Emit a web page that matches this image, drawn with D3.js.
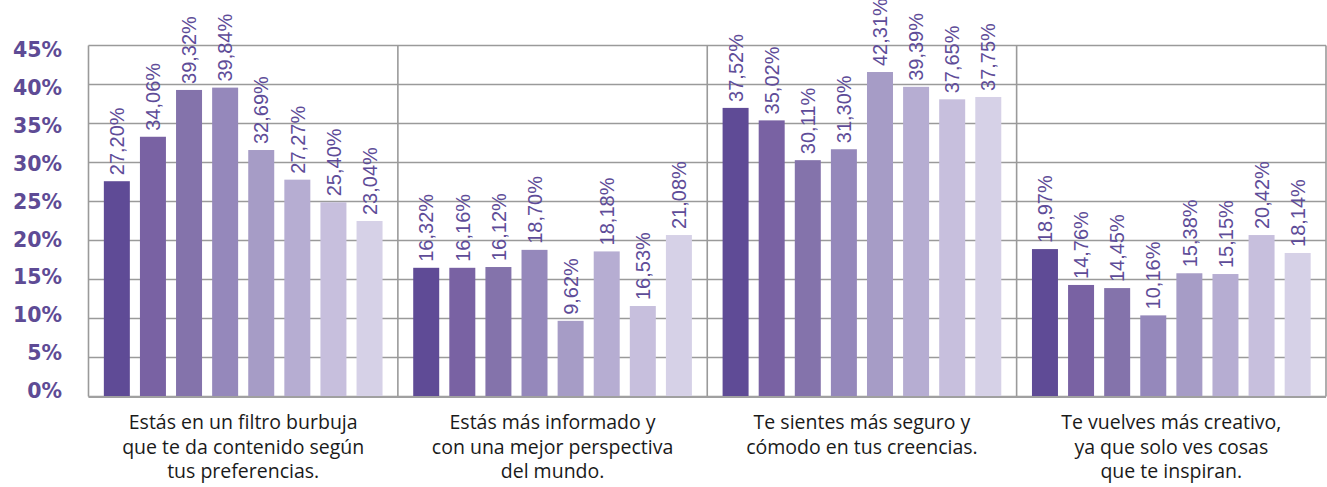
<!DOCTYPE html>
<html><head><meta charset="utf-8">
<script src="https://cdn.jsdelivr.net/npm/d3@7"></script>
<style>html,body{margin:0;padding:0;background:#fff;overflow:hidden}</style>
</head><body>
<svg id="chart" width="1327" height="487"></svg>
<script>
// ---- data ----
const categories = [
  ["Estás en un filtro burbuja", "que te da contenido según", "tus preferencias."],
  ["Estás más informado y", "con una mejor perspectiva", "del mundo."],
  ["Te sientes más seguro y", "cómodo en tus creencias."],
  ["Te vuelves más creativo,", "ya que solo ves cosas", "que te inspiran."]
];
const series = ["s1","s2","s3","s4","s5","s6","s7","s8"];
// printed labels
const labelValues = [
  [27.20, 34.06, 39.32, 39.84, 32.69, 27.27, 25.40, 23.04],
  [16.32, 16.16, 16.12, 18.70, 9.62, 18.18, 16.53, 21.08],
  [37.52, 35.02, 30.11, 31.30, 42.31, 39.39, 37.65, 37.75],
  [18.97, 14.76, 14.45, 10.16, 15.38, 15.15, 20.42, 18.14]
];
// bar heights as drawn in the picture
const barValues = [
  [27.6, 33.3, 39.3, 39.6, 31.6, 27.8, 24.9, 22.5],
  [16.5, 16.5, 16.6, 18.8, 9.7, 18.6, 11.6, 20.7],
  [37.0, 35.4, 30.3, 31.7, 41.6, 39.7, 38.1, 38.4],
  [18.9, 14.3, 13.9, 10.4, 15.8, 15.7, 20.7, 18.4]
];
const yTicks = [0, 5, 10, 15, 20, 25, 30, 35, 40, 45];
const colors = ["#5f4b96", "#7962a3", "#8473ab", "#9588bb", "#a69cc6", "#b6add2", "#c7bfdd", "#d6d1e7"];

// ---- layout ----
const svg = d3.select("#chart");
const mLeft = 88.5, mRight = 1326, mTop = 45.5, mBottom = 396.5;

const x0 = d3.scaleBand().domain(d3.range(categories.length)).range([mLeft, mRight]).padding(0);
const x1 = d3.scaleBand().domain(series).range([0, x0.bandwidth()]).paddingInner(0.28).paddingOuter(0.425);
const y = d3.scaleLinear().domain([0, 45]).range([mBottom, mTop]);
const yLab = d3.scaleLinear().domain([0, 45]).range([391, 50]);
const color = d3.scaleOrdinal().domain(series).range(colors);

// gridlines
svg.append("g").selectAll("line").data(yTicks).join("line")
  .attr("x1", mLeft).attr("x2", mRight)
  .attr("y1", d => y(d)).attr("y2", d => y(d))
  .attr("stroke", "#9a9a9a").attr("stroke-width", 1.6);
// vertical separators
const bounds = d3.range(categories.length).map(i => x0(i)).concat([mRight]);
svg.append("g").selectAll("line").data(bounds).join("line")
  .attr("x1", d => d).attr("x2", d => d)
  .attr("y1", mTop).attr("y2", mBottom)
  .attr("stroke", "#9a9a9a").attr("stroke-width", 1.6);

const rows = (i) => series.map((s, j) => ({s, v: barValues[i][j], lab: labelValues[i][j]}));

// bars
const groups = svg.append("g").selectAll("g").data(categories).join("g")
  .attr("transform", (d, i) => `translate(${x0(i)},0)`);
groups.selectAll("rect").data((d, i) => rows(i))
  .join("rect")
  .attr("x", d => x1(d.s)).attr("width", x1.bandwidth())
  .attr("y", d => y(d.v)).attr("height", d => y(0) - y(d.v))
  .attr("fill", d => color(d.s));

// bottom axis line
svg.append("line").attr("x1", mLeft).attr("x2", mRight).attr("y1", mBottom + 0.5).attr("y2", mBottom + 0.5)
  .attr("stroke", "#a0a0a0").attr("stroke-width", 2);

// value labels
const fmt = v => d3.format(".2f")(v).replace(".", ",") + "%";
groups.selectAll("text.val").data((d, i) => rows(i))
  .join("text").attr("class", "val")
  .attr("transform", d => `translate(${x1(d.s) + x1.bandwidth() / 2},${y(d.v) - 6}) rotate(-90)`)
  .attr("dy", "0.36em")
  .attr("font-family", "'Liberation Sans', Arial, sans-serif")
  .attr("font-size", 20)
  .attr("fill", "#5e4c98")
  .text(d => fmt(d.lab));

// y axis labels
const yAxis = d3.axisLeft(yLab).tickValues(yTicks).tickSize(0).tickFormat(d => d + "%");
const ya = svg.append("g").attr("transform", "translate(62,0)").call(yAxis);
ya.select(".domain").remove();
ya.selectAll("text")
  .attr("x", 0)
  .attr("font-family", "'DejaVu Sans', sans-serif")
  .attr("font-weight", "bold")
  .attr("font-size", 20.5)
  .attr("fill", "#5e4b95");

// category labels
groups.append("text")
  .attr("x", x0.bandwidth() / 2)
  .attr("text-anchor", "middle")
  .attr("font-family", "'Open Sans', sans-serif")
  .attr("font-size", 19.5)
  .attr("fill", "#1a1a1a")
  .selectAll("tspan").data(d => d).join("tspan")
  .attr("x", x0.bandwidth() / 2)
  .attr("y", (d, i) => 429 + i * 24.5)
  .text(d => d);
</script>
</body></html>
